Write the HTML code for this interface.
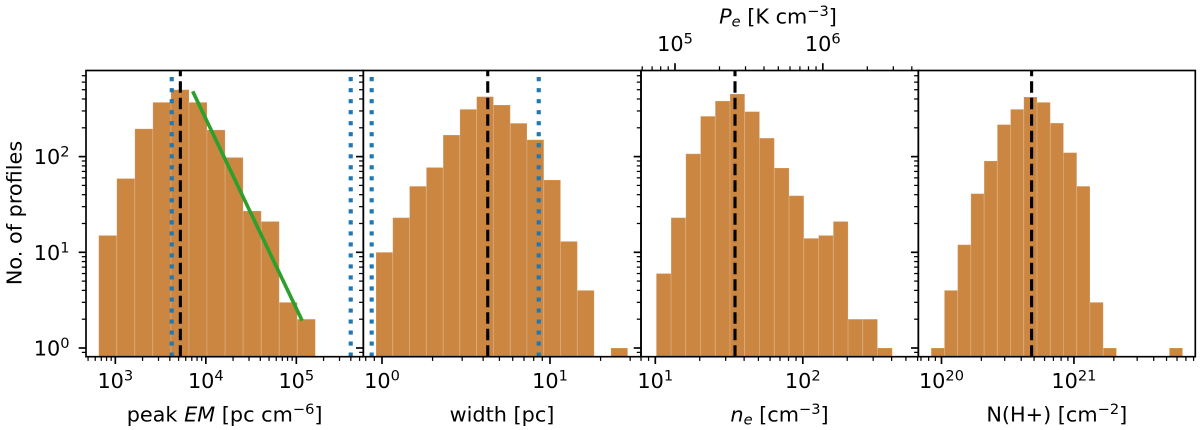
<!DOCTYPE html>
<html lang="en">
<head>
<meta charset="utf-8">
<title>Histograms of profile properties</title>
<style>
html,body{margin:0;padding:0;background:#fff;width:1200px;height:430px;overflow:hidden}
svg{display:block;filter:blur(0.35px)}
text{font-family:"DejaVu Sans","Liberation Sans",sans-serif;fill:#000;font-size:20.8px}
</style>
</head>
<body>
<svg id="figure" xmlns="http://www.w3.org/2000/svg" width="1200" height="430" viewBox="0 0 1200 430">
  <rect x="0" y="0" width="1200" height="430" fill="#fff"/>
  <g id="panels"></g>
  <g id="labels">
    <text transform="translate(21.7,213) rotate(-90)" text-anchor="middle">No. of profiles</text>
    <text x="224.6" y="421.5" text-anchor="middle">peak <tspan font-style="italic">EM</tspan> [pc cm<tspan dy="-7.5" font-size="14.6">−6</tspan><tspan dy="7.5">]</tspan></text>
    <text x="502" y="421.5" text-anchor="middle">width [pc]</text>
    <text x="779.5" y="421.5" text-anchor="middle"><tspan font-style="italic">n</tspan><tspan dy="3.2" font-size="14.6" font-style="italic">e</tspan><tspan dy="-3.2"> [cm</tspan><tspan dy="-7.5" font-size="14.6">−3</tspan><tspan dy="7.5">]</tspan></text>
    <text x="1056.8" y="421.5" text-anchor="middle">N(H+) [cm<tspan dy="-7.5" font-size="14.6">−2</tspan><tspan dy="7.5">]</tspan></text>
    <text x="778" y="23.5" text-anchor="middle"><tspan font-style="italic">P</tspan><tspan dy="3.2" font-size="14.6" font-style="italic">e</tspan><tspan dy="-3.2"> [K cm</tspan><tspan dy="-7.5" font-size="14.6">−3</tspan><tspan dy="7.5">]</tspan></text>
  </g>
</svg>
<script>
// ---- chart data ----
const emEdges = [656,1038,1644,2600,4121,6516,10300,16330,25820,40930,64710,102300,162200];
const emCounts = [15,59,195,369,500,369,190,98,27,21,3,2];
const emMedian = [5230];
const emLimits = [4200,399000];
const emFitX = [7160,116000];
const emFitY = [481,1.93];

const widthEdges = [0.921,1.159,1.459,1.837,2.312,2.909,3.660,4.607,5.800,7.296,9.186,11.56,14.55,18.32,23.05,29.0];
const widthCounts = [10,23,49,77,168,312,423,346,223,150,57,13,4,0,1];
const widthMedian = [4.26];
const widthLimits = [0.868,8.57];

const neEdges = [10.16,12.79,16.10,20.27,25.5,32.1,40.4,50.9,64.1,80.7,101.6,127.9,161,202.7,255,321,404];
const neCounts = [6,23,107,264,381,451,295,156,76,39,14,15,21,2,2,1];
const neMedian = [34.7];

const nhEdges = [8.36e19,1.052e20,1.324e20,1.667e20,2.098e20,2.64e20,3.323e20,4.183e20,5.265e20,6.626e20,8.34e20,1.05e21,1.321e21,1.663e21,2.093e21,2.634e21,3.315e21,4.173e21,5.25e21,6.61e21];
const nhCounts = [1,4,12,41,90,216,312,420,369,224,110,49,3,1,0,0,0,0,1];
const nhMedian = [4.79e20];

const yDomain = [0.811,794];
const yTickExponents = [0,1,2];
const emDomain = [10**2.676,10**5.74];
const emTickExponents = [3,4,5];
const widthDomain = [10**-0.1113,10**1.5417];
const widthTickExponents = [0,1];
const neDomain = [10**0.903,10**2.783];
const neTickExponents = [1,2];
const nhDomain = [10**19.825,10**21.916];
const nhTickExponents = [20,21];
const pressureDomain = [10**4.77,10**6.646];
const pressureTickExponents = [5,6];

// ---- layout ----
const AX_TOP = 70.5, AX_BOTTOM = 356.7;
const SVGNS = 'http://www.w3.org/2000/svg';
const root = document.getElementById('panels');
const BAR_FILL = '#cb8641', BLUE = '#1f77b4', GREEN = '#2ca02c';

function makeLogScale(domain, p0, p1) {
  const a = Math.log10(domain[0]), b = Math.log10(domain[1]);
  return v => p0 + (Math.log10(v) - a) / (b - a) * (p1 - p0);
}
const yScale = makeLogScale(yDomain, AX_BOTTOM, AX_TOP);

function svgEl(tag, parent, props) {
  const el = document.createElementNS(SVGNS, tag);
  for (const k in props) el.setAttribute(k, props[k]);
  parent.appendChild(el);
  return el;
}

function vLine(parent, name, px, color, width, dash) {
  const el = svgEl('line', parent, {x1: px, x2: px, y1: AX_BOTTOM, y2: AX_TOP, stroke: color, 'stroke-width': width, 'stroke-dasharray': dash});
  
  
  return el;
}

function powerLabel(parent, name, x, y, anchor, exponent) {
  const t = svgEl('text', parent, {x: x, y: y, 'text-anchor': anchor});
  
  
  t.appendChild(document.createTextNode('10'));
  const s = svgEl('tspan', t, {dy: -7.5, 'font-size': 14.6});
  s.textContent = String(exponent);
  return t;
}

function minorValues(domain) {
  const out = [];
  const lo = Math.floor(Math.log10(domain[0])), hi = Math.ceil(Math.log10(domain[1]));
  for (let e = lo; e < hi; e++) {
    for (let m = 2; m <= 9; m++) {
      const v = m * 10 ** e;
      if (v >= domain[0] && v <= domain[1]) out.push(v);
    }
  }
  return out;
}

function xAxisTicks(group, scale, domain, exponents, baseY, dir, prefix, labelY) {
  minorValues(domain).forEach(v => {
    const px = scale(v);
    const tk = svgEl('line', group, {x1: px, x2: px, y1: baseY, y2: baseY + dir * 4.2, stroke: '#000', 'stroke-width': 1.25});
    
    
  });
  exponents.forEach(e => {
    const px = scale(10 ** e);
    const tk = svgEl('line', group, {x1: px, x2: px, y1: baseY, y2: baseY + dir * 7.3, stroke: '#000', 'stroke-width': 1.67});
    
    
    powerLabel(group, prefix + '-tick-label', px, labelY, 'middle', e);
  });
}

function drawPanel(cfg) {
  const g = svgEl('g', root, {});
  
  
  const x = makeLogScale(cfg.domain, cfg.left, cfg.right);

  cfg.counts.forEach((c, i) => {
    if (c <= 0) return;
    const x0 = x(cfg.edges[i]), x1 = x(cfg.edges[i + 1]), y0 = yScale(c);
    const bar = svgEl('rect', g, {x: x0, y: y0, width: x1 - x0, height: AX_BOTTOM - y0, fill: BAR_FILL, stroke: '#fff', 'stroke-opacity': 0.16, 'stroke-width': 1});
    
    
  });

  (cfg.limits || []).forEach(v => {
    vLine(g, cfg.name + '-limit-line', x(v), BLUE, 4.15, '4.15 6.87');
  });
  cfg.median.forEach(v => {
    vLine(g, cfg.name + '-median-line', x(v), '#000', 3.1, '11.5 5');
  });
  if (cfg.fitX) {
    const fit = svgEl('line', g, {x1: x(cfg.fitX[0]), y1: yScale(cfg.fitY[0]), x2: x(cfg.fitX[1]), y2: yScale(cfg.fitY[1]), stroke: GREEN, 'stroke-width': 3.6});
    
    
  }

  const frame = svgEl('rect', g, {x: cfg.left, y: AX_TOP, width: cfg.right - cfg.left, height: AX_BOTTOM - AX_TOP, fill: 'none', stroke: '#000', 'stroke-width': 1.67});
  
  

  xAxisTicks(g, x, cfg.domain, cfg.ticks, AX_BOTTOM, 1, cfg.name + '-x', 388.2);

  minorValues(yDomain).forEach(v => {
    const tk = svgEl('line', g, {x1: cfg.left, x2: cfg.left - 4.2, y1: yScale(v), y2: yScale(v), stroke: '#000', 'stroke-width': 1.25});
    
    
  });
  yTickExponents.forEach(e => {
    const py = yScale(10 ** e);
    const tk = svgEl('line', g, {x1: cfg.left, x2: cfg.left - 7.3, y1: py, y2: py, stroke: '#000', 'stroke-width': 1.67});
    
    
    if (cfg.yLabels) {
      powerLabel(g, 'y-tick-label', cfg.left - 16.5, py + 7.6, 'end', e);
    }
  });

  if (cfg.topDomain) {
    const tx = makeLogScale(cfg.topDomain, cfg.left, cfg.right);
    xAxisTicks(g, tx, cfg.topDomain, cfg.topTicks, AX_TOP, -1, 'pressure-top', 51);
  }
}

drawPanel({name: 'peak-em', left: 86, right: 363.3, domain: emDomain, edges: emEdges, counts: emCounts, ticks: emTickExponents, median: emMedian, limits: emLimits, fitX: emFitX, fitY: emFitY, yLabels: true});
drawPanel({name: 'width', left: 363.3, right: 641, domain: widthDomain, edges: widthEdges, counts: widthCounts, ticks: widthTickExponents, median: widthMedian, limits: widthLimits});
drawPanel({name: 'electron-density', left: 641, right: 918.3, domain: neDomain, edges: neEdges, counts: neCounts, ticks: neTickExponents, median: neMedian, topDomain: pressureDomain, topTicks: pressureTickExponents});
drawPanel({name: 'column-density', left: 918.3, right: 1195.3, domain: nhDomain, edges: nhEdges, counts: nhCounts, ticks: nhTickExponents, median: nhMedian});
</script>
</body>
</html>
